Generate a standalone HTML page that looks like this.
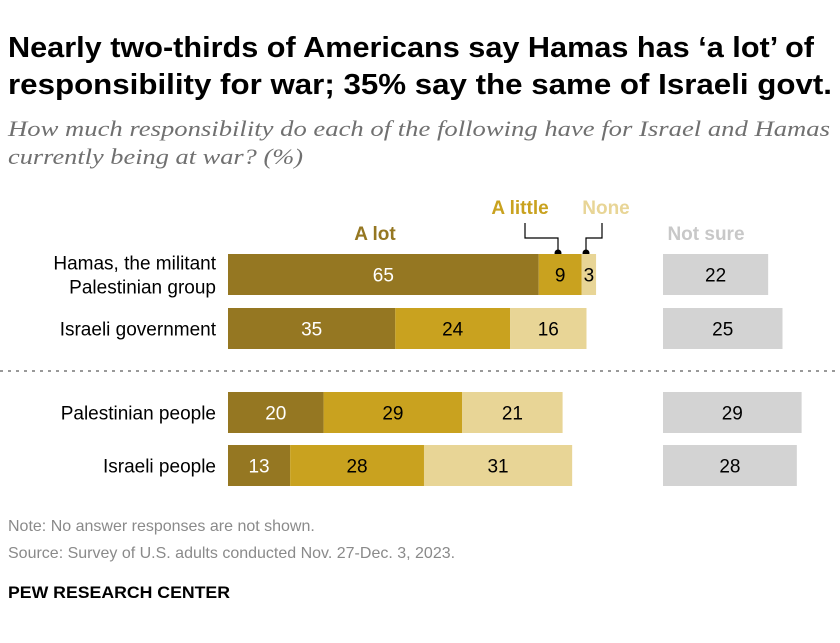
<!DOCTYPE html>
<html><head><meta charset="utf-8"><style>
body{margin:0;background:#fff;}
svg text{font-family:"Liberation Sans",sans-serif;}
</style></head><body>
<svg width="840" height="638" viewBox="0 0 840 638" xmlns="http://www.w3.org/2000/svg">
<text x="8" y="57" font-size="29" font-weight="bold" fill="#000" textLength="806" lengthAdjust="spacingAndGlyphs">Nearly two-thirds of Americans say Hamas has ‘a lot’ of</text>
<text x="8" y="94" font-size="29" font-weight="bold" fill="#000" textLength="824" lengthAdjust="spacingAndGlyphs">responsibility for war; 35% say the same of Israeli govt.</text>
<text x="8" y="136" font-size="22" font-style="italic" fill="#707070" textLength="822" lengthAdjust="spacingAndGlyphs" style="font-family:'Liberation Serif',serif">How much responsibility do each of the following have for Israel and Hamas</text>
<text x="8" y="164" font-size="22" font-style="italic" fill="#707070" textLength="295" lengthAdjust="spacingAndGlyphs" style="font-family:'Liberation Serif',serif">currently being at war? (%)</text>
<text x="375" y="240" font-size="19" font-weight="bold" fill="#957722" text-anchor="middle">A lot</text>
<text x="520" y="214" font-size="19" font-weight="bold" fill="#c9a21f" text-anchor="middle">A little</text>
<text x="606" y="214" font-size="19" font-weight="bold" fill="#e8d596" text-anchor="middle">None</text>
<text x="706" y="240" font-size="19" font-weight="bold" fill="#c8c8c8" text-anchor="middle">Not sure</text>
<polyline points="525,223 525,238 558,238 558,253" fill="none" stroke="#000" stroke-width="1.2"/>
<circle cx="558" cy="253" r="3.5" fill="#000"/>
<polyline points="602,223 602,238 586,238 586,253" fill="none" stroke="#000" stroke-width="1.2"/>
<circle cx="586" cy="253" r="3.5" fill="#000"/>
<line x1="0" y1="371" x2="840" y2="371" stroke="#999" stroke-width="2" stroke-dasharray="3,5"/>
<g id="bars"></g>
<text x="8" y="531" font-size="16" fill="#8a8a8a">Note: No answer responses are not shown.</text>
<text x="8" y="558" font-size="16" fill="#8a8a8a">Source: Survey of U.S. adults conducted Nov. 27-Dec. 3, 2023.</text>
<text x="8" y="598" font-size="17" font-weight="bold" fill="#000" textLength="222" lengthAdjust="spacingAndGlyphs">PEW RESEARCH CENTER</text>
</svg>
<script>
const categories=[["Hamas, the militant","Palestinian group"],["Israeli government"],["Palestinian people"],["Israeli people"]];
const aLot=[65,35,20,13];
const aLittle=[9,24,29,28];
const none=[3,16,21,31];
const notSure=[22,25,29,28];
const rowTops=[254,308,392,445];
const NS="http://www.w3.org/2000/svg";
const g=document.getElementById('bars');
const x0=228,nx0=663,k=4.78,h=41;
const xs=v=>v*k;
function rect(x,y,w,fill,name){const r=document.createElementNS(NS,'rect');r.setAttribute('x',x);r.setAttribute('y',y);r.setAttribute('width',w);r.setAttribute('height',h);r.setAttribute('fill',fill);


g.appendChild(r);}
function txt(x,y,s,fill,name,anchor,size){const t=document.createElementNS(NS,'text');t.setAttribute('x',x);t.setAttribute('y',y);t.setAttribute('font-size',size||19);t.setAttribute('fill',fill);t.setAttribute('text-anchor',anchor||'middle');t.textContent=s;


g.appendChild(t);}
categories.forEach((c,i)=>{
 const y=rowTops[i];
 const lines=c;
 lines.forEach((l,j)=>{const yy=lines.length==1?y+h/2+7:y+h/2-5+j*24;txt(216,yy,l,'#000','category-label','end',19);});
 let x=x0;
 const segs=[[aLot[i],'#957722','#fff','bar-a-lot'],[aLittle[i],'#c9a21f','#000','bar-a-little'],[none[i],'#e8d596','#000','bar-none']];
 segs.forEach(s=>{const w=xs(s[0]);rect(x,y,w,s[1],s[3]);txt(x+w/2,y+h/2+7,s[0],s[2],s[3]+'-value');x+=w;});
 const w=xs(notSure[i]);rect(nx0,y,w,'#d3d3d3','bar-not-sure');txt(nx0+w/2,y+h/2+7,notSure[i],'#000','bar-not-sure-value');
});
</script>
</body></html>
